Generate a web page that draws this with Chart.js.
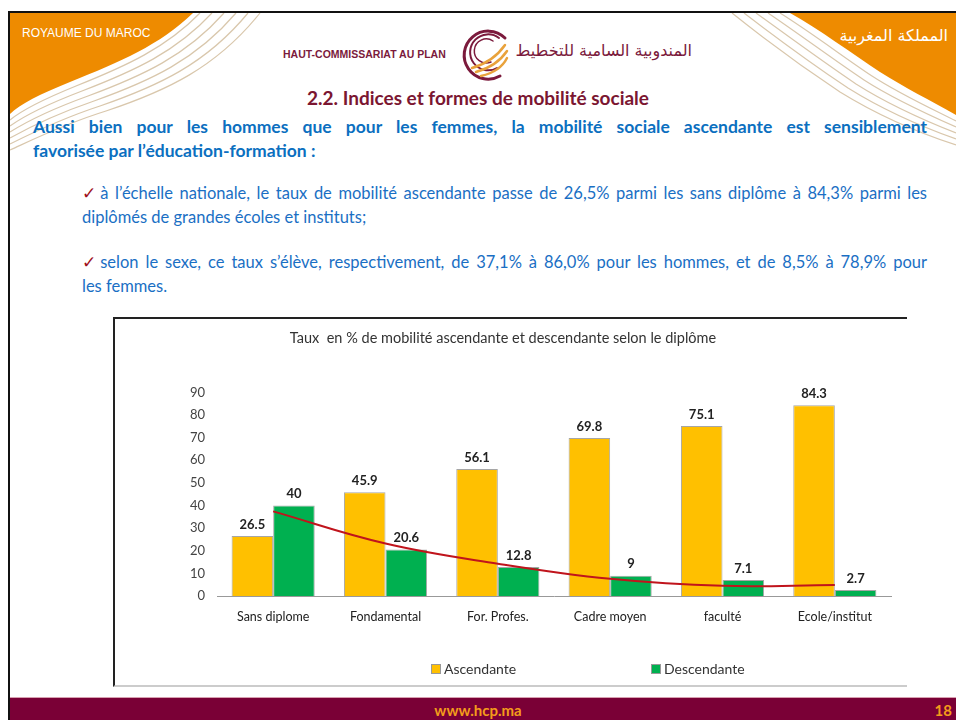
<!DOCTYPE html>
<html>

<head>
    <meta charset="utf-8">
    <title>mobilité sociale</title>
    <script src="https://cdn.jsdelivr.net/npm/chart.js"></script>
    <style>
        body { margin: 0; background: #fff; }
        #page { position: relative; width: 956px; height: 720px; overflow: hidden; font-family: Lato, sans-serif; }
        .abs { position: absolute; white-space: nowrap; }
        .full { text-align: justify; text-align-last: justify; }
        #lead { left: 33px; width: 894px; top: 115px; color: #0b6fc0; font-weight: bold; font-size: 17.5px; line-height: 24px; }
        .bul { left: 82px; width: 845px; color: #1a6fc4; font-size: 16.5px; line-height: 24px; }
        .chk { display: inline-block; }
        .chk b { color: #a01020; font-weight: normal; }
        #box { position: absolute; left: 113px; top: 317px; width: 792px; height: 366px; border-left: 2px solid #222; border-top: 2px solid #222; border-bottom: 2px solid #ccc; }
        #box canvas { position: absolute; left: 0; top: 0; }
        .leg { position: absolute; top: 660px; font-size: 14px; color: #333; }
        .leg i { display: inline-block; width: 8px; height: 8px; border: 1px solid #999; margin-right: 3px; vertical-align: 0px; }
    </style>
</head>

<body>
<div id="page">
    <svg class="abs" style="left:0;top:0" width="956" height="720">
        <!-- coins orange et rayures -->
        <path d="M10 13 H193 C160 45 120 62 70 82 C40 94 20 104 10 114 Z" fill="#ee8b00"/>
        <g fill="none" stroke="#d9c7ac" stroke-width="1.2">
            <path d="M200 13 C166 48 126 66 76 86 C44 99 22 110 10 120"/>
            <path d="M212 13 C176 52 134 71 82 91 C48 104 24 116 10 126"/>
            <path d="M224 13 C186 56 142 76 88 96 C52 109 26 122 10 132"/>
            <path d="M236 13 C196 60 150 81 94 101 C56 114 28 128 10 138"/>
            <path d="M248 13 C206 64 158 86 100 106 C60 119 30 134 10 144"/>
            <path d="M260 13 C216 68 166 91 106 111 C64 124 32 140 10 150"/>
        </g>
        <path d="M790 13 H956 V115 C930 100 905 88 880 72 C850 52 820 30 790 13 Z" fill="#ee8b00"/>
        <g fill="none" stroke="#d9c7ac" stroke-width="1.2">
            <path d="M780 13 C812 33 842 56 872 76 C898 93 926 106 956 121"/>
            <path d="M768 13 C802 36 834 60 864 80 C892 98 922 112 956 127"/>
            <path d="M756 13 C792 39 826 64 856 84 C886 103 918 118 956 133"/>
            <path d="M744 13 C782 42 818 68 848 88 C880 108 914 124 956 139"/>
            <path d="M732 13 C772 45 810 72 840 92 C874 113 910 130 956 145"/>
        </g>
        <!-- cadre -->
        <rect x="8" y="11" width="948" height="2" fill="#111"/>
        <rect x="8" y="11" width="2" height="709" fill="#111"/>
        <!-- logo -->
        <g fill="none" stroke-linecap="round">
            <path d="M505 38 A24 24 0 1 0 500 76" stroke="#7b1a3c" stroke-width="3"/>
            <path d="M499 38 A18 18 0 1 0 497 68" stroke="#7b1a3c" stroke-width="2"/>
            <path d="M493 41 A12 12 0 1 0 491 62" stroke="#7b1a3c" stroke-width="1.5"/>
            <path d="M472 68 C486 64 498 55 505 45" stroke="#e9a23b" stroke-width="2.5"/>
            <path d="M476 72 C490 68 501 60 507 51" stroke="#e9a23b" stroke-width="2.5"/>
            <path d="M481 76 C494 73 503 66 507 58" stroke="#e9a23b" stroke-width="2.5"/>
        </g>
        <!-- pied de page -->
        <rect x="10" y="697" width="946" height="23" fill="#7a0036"/>
        <rect x="10" y="697" width="946" height="1" fill="#d8a0b0"/>
    </svg>

    <div class="abs" style="left:22px;top:26px;color:#fff;font-family:'Liberation Sans',Arial;font-size:12px;">ROYAUME DU MAROC</div>
    <div class="abs" style="right:8px;top:26px;color:#fff;font-family:'DejaVu Sans';font-size:16px;direction:rtl;">المملكة المغربية</div>
    <div class="abs" style="left:283px;top:48px;color:#7b1a3c;font-family:'Liberation Sans',Arial;font-weight:bold;font-size:10.5px;">HAUT-COMMISSARIAT AU PLAN</div>
    <div class="abs" style="right:264px;top:41px;color:#7b1a3c;font-family:'DejaVu Sans';font-size:16px;direction:rtl;">المندوبية السامية للتخطيط</div>
    <div class="abs" style="left:0;width:956px;text-align:center;top:86px;color:#7b1631;font-weight:bold;font-size:19px;">2.2. Indices et formes de mobilité sociale</div>

    <div id="lead" class="abs">
        <div class="full">Aussi bien pour les hommes que pour les femmes, la mobilité sociale ascendante est sensiblement</div>
        <div>favorisée par l’éducation-formation :</div>
    </div>
    <div class="abs bul" style="top:181px">
        <div class="full"><span class="chk"><b>✓</b> à</span> l’échelle nationale, le taux de mobilité ascendante passe de 26,5% parmi les sans diplôme à 84,3% parmi les</div>
        <div>diplômés de grandes écoles et instituts;</div>
    </div>
    <div class="abs bul" style="top:250px">
        <div class="full"><span class="chk"><b>✓</b> selon</span> le sexe, ce taux s’élève, respectivement, de 37,1% à 86,0% pour les hommes, et de 8,5% à 78,9% pour</div>
        <div>les femmes.</div>
    </div>

    <div id="box"><canvas id="myChart" width="790" height="364"></canvas></div>
    <div class="leg" style="left:431px"><i style="background:#ffc000"></i>Ascendante</div>
    <div class="leg" style="left:651px"><i style="background:#00b050"></i>Descendante</div>

    <div class="abs" style="left:0;width:956px;text-align:center;top:701px;color:#f39c1b;font-weight:bold;font-size:15px;">www.hcp.ma</div>
    <div class="abs" style="right:4px;top:701px;color:#f39c1b;font-weight:bold;font-size:15px;">18</div>
</div>

<script>
    var labels = ['Sans diplome', 'Fondamental', 'For. Profes.', 'Cadre moyen', 'faculté', 'Ecole/institut'];
    var ascendante = [26.5, 45.9, 56.1, 69.8, 75.1, 84.3];
    var descendante = [40, 20.6, 12.8, 9, 7.1, 2.7];
    // courbe de tendance
    var tendance = [37.4, 23.2, 14.3, 7.6, 4.5, 4.9];
    var yTicks = [0, 10, 20, 30, 40, 50, 60, 70, 80, 90];

    // étiquettes de valeurs au-dessus des barres
    var valeurs = {
        id: 'valeurs',
        afterDatasetsDraw(chart) {
            var ctx = chart.ctx;
            ctx.save();
            ctx.font = 'bold 13px Lato';
            ctx.fillStyle = '#222';
            ctx.textAlign = 'center';
            ctx.textBaseline = 'bottom';
            [0, 1].forEach(function (i) {
                chart.getDatasetMeta(i).data.forEach(function (bar, j) {
                    ctx.fillText(String(chart.data.datasets[i].data[j]), bar.x, bar.y - 5);
                });
            });
            ctx.restore();
        }
    };

    var ctx = document.getElementById('myChart').getContext('2d');
    var myChart = new Chart(ctx, {
        type: 'bar',
        data: {
            labels: labels,
            datasets: [{
                label: 'Ascendante',
                data: ascendante,
                backgroundColor: '#ffc000',
                borderColor: '#a6a6a6',
                borderWidth: 1,
                categoryPercentage: 0.74,
                barPercentage: 1.0,
                order: 2
            }, {
                label: 'Descendante',
                data: descendante,
                backgroundColor: '#00b050',
                borderColor: '#a6a6a6',
                borderWidth: 1,
                categoryPercentage: 0.74,
                barPercentage: 1.0,
                order: 2
            }, {
                type: 'line',
                label: 'Tendance',
                data: tendance,
                borderColor: '#c0141c',
                borderWidth: 2,
                pointRadius: 0,
                tension: 0.4,
                fill: false,
                order: 0
            }]
        },
        options: {
            responsive: false,
            animation: false,
            layout: { padding: { left: 0, right: 14, top: 0, bottom: 46 } },
            plugins: {
                legend: { display: false },
                tooltip: { enabled: false },
                title: {
                    display: true,
                    text: 'Taux  en % de mobilité ascendante et descendante selon le diplôme',
                    color: '#333',
                    font: { family: 'Lato', size: 14.5, weight: 'normal' },
                    padding: { top: 11, bottom: 45 }
                }
            },
            scales: {
                x: {
                    grid: { display: false, drawTicks: false },
                    border: { display: true, color: '#999', width: 1 },
                    ticks: { color: '#222', font: { family: 'Lato', size: 12.5 }, padding: 13 }
                },
                y: {
                    min: 0,
                    max: 90,
                    grid: { display: false, drawTicks: false },
                    border: { display: false },
                    afterFit: function (s) { s.width = 102; },
                    afterBuildTicks: function (s) { s.ticks = yTicks.map(function (v) { return { value: v }; }); },
                    ticks: { color: '#444', font: { family: 'Lato', size: 13 }, padding: 12 }
                }
            }
        },
        plugins: [valeurs]
    });
</script>
</body>

</html>
